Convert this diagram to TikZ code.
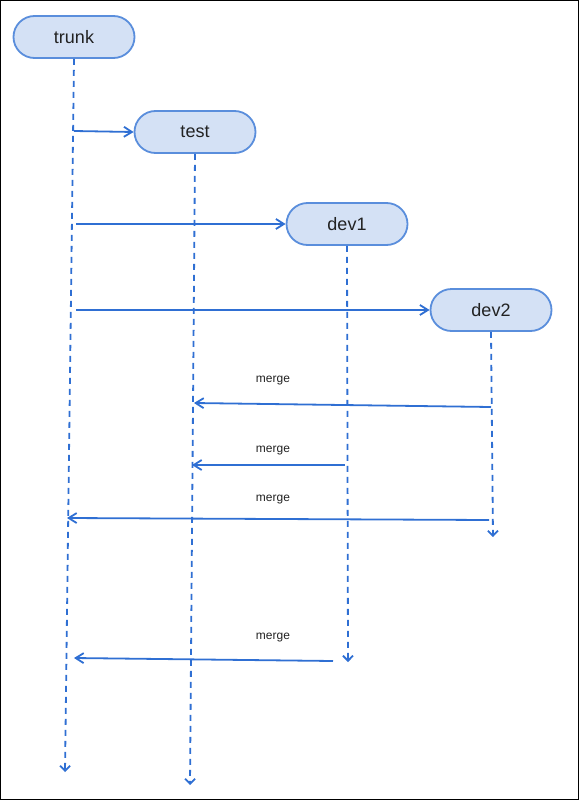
\documentclass[tikz,border=0pt]{standalone}
\usepackage{fontspec}
\setmainfont{Liberation Sans}
\usetikzlibrary{arrows.meta}
\definecolor{lineblue}{HTML}{2F6FD3}
\definecolor{boxblue}{HTML}{D4E1F5}
\definecolor{edgeblue}{HTML}{5A8EDC}
\definecolor{inkgray}{HTML}{222222}

\begin{document}
\begin{tikzpicture}[x=1pt,y=-1pt,line width=1.8pt,
  branch/.style={draw=edgeblue,fill=boxblue,rounded corners=21pt,minimum width=121pt,
    minimum height=42pt,inner sep=0pt,text=inkgray,font=\fontsize{18}{21}\selectfont},
  life/.style={draw=lineblue,dash pattern=on 6pt off 5pt,-{Straight Barb[length=5pt,width=10pt]}},
  msg/.style={draw=lineblue,-{Straight Barb[length=8pt,width=10pt]}},
  lbl/.style={text=inkgray,font=\fontsize{12}{14}\selectfont}]
 \draw[line width=1pt] (0.5,0.5) rectangle (578.5,799.5);
 % branches
 \foreach \name/\x/\y in {trunk/74/37,test/195/132,dev1/347/224,dev2/491/310}
   \node[branch] (\name) at (\x,\y) {\name};
 % lifelines
 \foreach \name/\x/\y in {trunk/65/772,test/190/785,dev1/348/662,dev2/493/537}{%
   \coordinate (\name-end) at (\x,\y);
   \draw[life] (\name.south) -- (\name-end);
 }
 % branching off trunk
 \foreach \name/\y/\x in {test/131/74,dev1/224/76,dev2/310/76}{%
   \coordinate (from-\name) at (\x,\y);
   \draw[msg] (from-\name) -- (\name.west);
 }
 % merges
 \foreach \i/\sx/\sy/\ex/\ey/\ly in {1/491/407/194/403/381,2/345/465/192/465/451,
     3/489/520/67/518/500,4/333/661/74/658/638}{%
   \coordinate (m\i-start) at (\sx,\sy);
   \coordinate (m\i-end) at (\ex,\ey);
   \draw[msg] (m\i-start) -- (m\i-end);
   \node[lbl] (m\i) at (273,\ly) {merge};
 }
\end{tikzpicture}
\end{document}
